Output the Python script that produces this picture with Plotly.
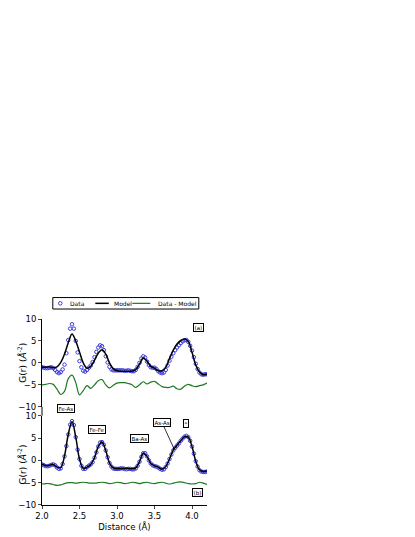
import numpy as np
import plotly.graph_objects as go
from plotly.subplots import make_subplots

# distance grids (Angstrom)
r_data = np.linspace(2.0, 4.2, 89)   # step 0.025
r_fit = np.linspace(2.0, 4.2, 45)    # step 0.05

# panel (a)
data_a = [
    -1.0, -1.1, -1.2, -1.2, -1.1, -1.0, -1.2, -1.6,
    -2.1, -2.35, -2.1, -1.5, -0.4, 2.2, 5.2, 7.8,
    8.8, 7.8, 5.0, 2.4, 0.4, -1.0, -1.8, -2.0,
    -1.6, -1.1, -0.6, 0.2, 1.3, 2.5, 3.5, 4.0,
    3.8, 2.9, 1.5, 0.1, -0.9, -1.5, -1.7, -1.7,
    -1.7, -1.7, -1.7, -1.7, -1.8, -1.8, -1.7, -1.8,
    -1.9, -1.9, -1.6, -0.9, 0.0, 1.0, 1.5, 1.2,
    0.3, -0.5, -1.0, -1.1, -1.1, -1.4, -1.9, -2.2,
    -2.35, -2.2, -1.6, -0.6, 0.5, 1.4, 2.2, 2.9,
    3.5, 4.0, 4.5, 4.9, 5.15, 5.2, 4.8, 3.9,
    2.8, 1.3, -0.2, -1.4, -2.2, -2.6, -2.7, -2.6,
    -2.6,
]
model_a = [
    -1.0, -1.0, -0.9, -1.1,
    -0.9, 0.1, 2.0, 4.6,
    6.6, 5.0, 2.5, 0.0,
    -1.2, -0.8, 0.6, 2.2,
    3.0, 2.0, 0.0, -1.3,
    -1.8, -1.9, -1.9, -1.9,
    -1.9, -1.5, -0.3, 1.1,
    0.4, -0.8, -1.2, -1.8,
    -1.8, -1.0, 1.0, 2.9,
    4.3, 5.1, 5.45, 4.9,
    2.4, -0.5, -2.1, -2.7,
    -2.6,
]
diff_a = [
    -5.0, -4.9, -4.7, -4.9,
    -6.0, -7.2, -6.5, -3.6,
    -2.8, -4.5, -7.3, -6.3,
    -5.2, -5.8, -5.0, -4.1,
    -3.8, -5.0, -5.7, -5.1,
    -4.6, -4.5, -4.5, -4.7,
    -5.0, -5.6, -5.0, -4.3,
    -4.8, -4.4, -4.2, -4.8,
    -5.4, -5.6, -5.6, -5.3,
    -5.9, -6.0, -5.3, -4.9,
    -5.2, -5.4, -5.2, -5.0,
    -4.6,
]

# panel (b)
data_b = [
    -0.9, -1.1, -1.3, -1.3, -1.2, -1.0, -0.9, -1.1,
    -1.6, -1.9, -1.8, -0.8, 0.9, 3.2, 5.8, 8.0,
    8.8, 7.9, 5.2, 2.4, 0.3, -1.2, -1.9, -1.9,
    -1.5, -1.2, -0.9, -0.4, 0.6, 1.8, 3.1, 4.0,
    4.1, 3.5, 2.2, 0.7, -0.6, -1.4, -1.8, -1.9,
    -1.9, -1.9, -1.8, -1.8, -1.9, -2.0, -1.9, -1.9,
    -2.0, -2.0, -1.8, -1.2, -0.3, 0.8, 1.6, 1.6,
    0.9, 0.0, -0.7, -1.1, -1.3, -1.4, -1.6, -1.9,
    -2.1, -2.0, -1.5, -0.7, 0.3, 1.3, 2.2, 2.8,
    3.3, 3.8, 4.4, 4.9, 5.3, 5.5, 5.2, 4.4,
    3.1, 1.5, -0.2, -1.4, -2.2, -2.5, -2.6, -2.6,
    -2.5,
]
model_b = [
    -0.8, -1.2, -1.1, -0.9,
    -1.5, -1.6, 1.0, 5.8,
    8.7, 5.2, 0.3, -1.8,
    -1.5, -0.9, 0.6, 3.1,
    4.1, 2.2, -0.6, -1.7,
    -1.8, -1.8, -1.8, -1.8,
    -1.9, -1.7, -0.3, 1.6,
    0.9, -0.7, -1.2, -1.5,
    -2.0, -1.4, 0.3, 2.3,
    3.4, 4.4, 5.3, 5.2,
    3.1, -0.2, -2.1, -2.5,
    -2.4,
]
diff_b = [
    -5.3, -5.2, -5.2, -5.4,
    -5.6, -5.5, -5.2, -5.0,
    -5.0, -5.1, -5.0, -4.9,
    -5.0, -5.1, -5.1, -5.0,
    -4.9, -5.0, -5.2, -5.1,
    -4.9, -5.0, -5.2, -5.1,
    -4.9, -5.0, -5.2, -5.0,
    -4.9, -5.1, -5.2, -5.0,
    -4.9, -5.1, -5.3, -5.1,
    -4.9, -4.8, -5.0, -5.2,
    -5.3, -5.2, -4.9, -5.1,
    -5.4,
]

legend_labels = ["Data", "Model", "Data - Model"]

BLUE = "#3b3bdc"
GREEN = "#1f7a1f"
FONT = "DejaVu Sans"

# page body has an 8px margin; positions below are page pixels
OFF = 8
L, R, T, B = 41.7, 206.7, 319.0, 505.5
W, H = R - L, B - T
FIG_W, FIG_H = 415 - OFF, 537 - OFF

def px(v):
    return (v - L) / W

def py(v):
    return (B - v) / H

fig = make_subplots(rows=2, cols=1, shared_xaxes=True)

panels = [(data_a, model_a, diff_a), (data_b, model_b, diff_b)]
for i, (d, m, df) in enumerate(panels):
    row = i + 1
    fig.add_trace(go.Scatter(x=r_data, y=d, mode="markers", name=legend_labels[0],
                             marker=dict(symbol="circle-open", size=3.5, color=BLUE,
                                         line=dict(width=1, color=BLUE)),
                             showlegend=False), row=row, col=1)
    fig.add_trace(go.Scatter(x=r_fit, y=m, mode="lines", name=legend_labels[1],
                             line=dict(color="black", width=1.5, shape="spline"),
                             showlegend=False), row=row, col=1)
    fig.add_trace(go.Scatter(x=r_fit, y=df, mode="lines", name=legend_labels[2],
                             line=dict(color=GREEN, width=1.2, shape="spline"),
                             showlegend=False), row=row, col=1)

yax = dict(range=[-10, 10], dtick=5, ticks="outside", ticklen=3, showline=True,
           linecolor="black", linewidth=1, showgrid=False, zeroline=False,
           tickfont=dict(size=8.5))

fig.update_layout(
    width=FIG_W, height=FIG_H,
    margin=dict(l=L - OFF, r=FIG_W - (R - OFF), t=T - OFF, b=FIG_H - (B - OFF), autoexpand=False),
    plot_bgcolor="white", paper_bgcolor="white",
    font=dict(family=FONT, color="black", size=8),
    xaxis=dict(range=[2.0, 4.2], showline=False, showticklabels=False, ticks="",
               showgrid=False, zeroline=False),
    xaxis2=dict(range=[2.0, 4.2], dtick=0.5, tickformat=".1f", ticks="outside", ticklen=3,
                showline=True, linecolor="black", linewidth=1, showgrid=False, zeroline=False,
                tickfont=dict(size=8.5), title=dict(text="Distance (Å)", font=dict(size=8.5), standoff=1)),
    yaxis=dict(domain=[py(407), 1.0], **yax),
    yaxis2=dict(domain=[0.0, py(416)], **yax),
    showlegend=False,
)

# y titles placed as rotated text to sit close to the tick labels
ytitle = "G(r) (<i>Å</i><sup>-2</sup>)"
for yc in (363, 465):
    fig.add_annotation(x=px(21.5), y=py(yc), xref="paper", yref="paper", text=ytitle,
                       textangle=-90, showarrow=False, xanchor="center", yanchor="middle",
                       font=dict(size=9, family=FONT))

# continuous left axis line between the two panels
fig.add_shape(type="line", xref="paper", yref="paper", x0=0, x1=0, y0=py(416), y1=py(407),
              line=dict(color="black", width=1))

# legend box drawn by hand so it keeps the compact original layout
fig.add_shape(type="rect", xref="paper", yref="paper", x0=px(52.5), x1=px(198.5),
              y0=py(309), y1=py(297.5), line=dict(color="black", width=1), fillcolor="white")
fig.add_shape(type="circle", xref="paper", yref="paper", x0=px(58.2), x1=px(61.8),
              y0=py(305.1), y1=py(301.5), line=dict(color=BLUE, width=1))
fig.add_shape(type="line", xref="paper", yref="paper", x0=px(95), x1=px(108.5),
              y0=py(303.3), y1=py(303.3), line=dict(color="black", width=1.5))
fig.add_shape(type="line", xref="paper", yref="paper", x0=px(132), x1=px(150),
              y0=py(303.3), y1=py(303.3), line=dict(color=GREEN, width=1.2))
for xpos, lab in zip([67.5, 111.5, 155.5], legend_labels):
    fig.add_annotation(x=px(xpos), y=py(303.3), xref="paper", yref="paper", text=lab,
                       xanchor="left", yanchor="middle", showarrow=False,
                       font=dict(size=6, family=FONT))

box = dict(bordercolor="black", borderwidth=1, borderpad=0.5, bgcolor="white",
           font=dict(size=5.5, family=FONT), showarrow=False)
fig.add_annotation(x=4.09, y=8.0, xref="x", yref="y", text="(a)", **box)
fig.add_annotation(x=4.07, y=-7.15, xref="x2", yref="y2", text="(b)", **box)
fig.add_annotation(x=2.317, y=py(409), xref="x2", yref="paper", text="Fe-As", **box)
fig.add_annotation(x=2.73, y=6.85, xref="x2", yref="y2", text="Fe-Fe", **box)
fig.add_annotation(x=3.30, y=4.8, xref="x2", yref="y2", text="Ba-As", **box)
fig.add_annotation(x=3.917, y=8.2, xref="x2", yref="y2", text="*", **box)
fig.add_annotation(x=3.763, y=2.5, xref="x2", yref="y2", text="As-As",
                   ax=3.6, ay=8.5, axref="x2", ayref="y2", showarrow=True,
                   arrowhead=1, arrowsize=0.6, arrowwidth=0.8, arrowcolor="black",
                   bordercolor="black", borderwidth=1, borderpad=0.5, bgcolor="white",
                   font=dict(size=5.5, family=FONT))

fig.write_html("out.html")
